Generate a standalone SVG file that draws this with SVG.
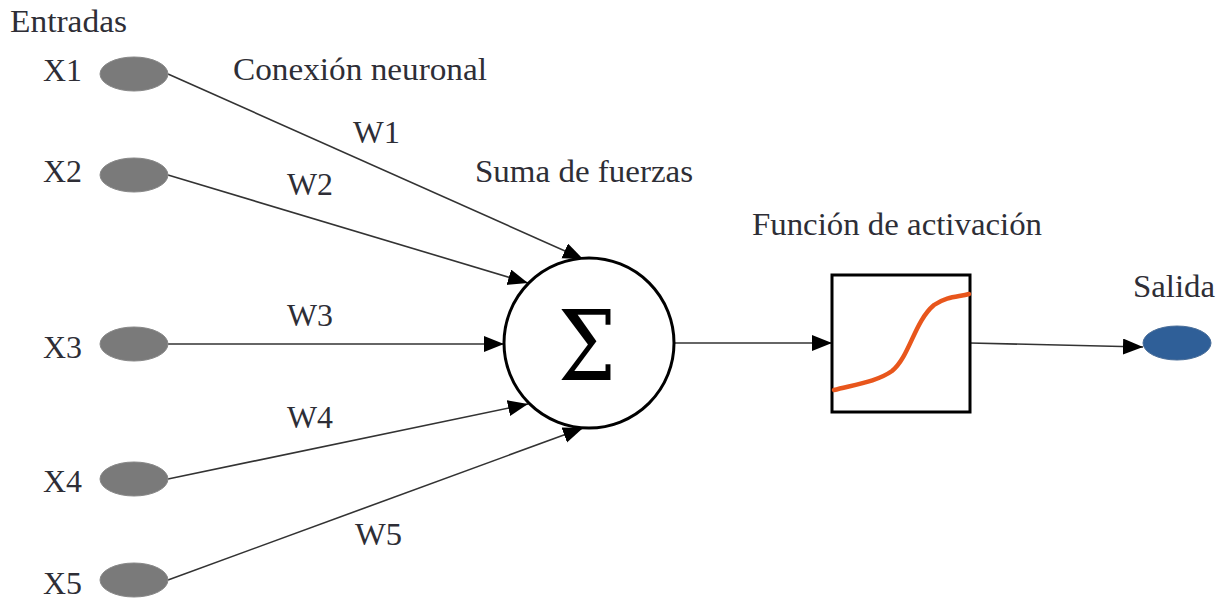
<svg xmlns="http://www.w3.org/2000/svg" width="1225" height="599" viewBox="0 0 1225 599">
<style>
text{font-family:"Liberation Serif","Times New Roman",serif;font-size:32px;fill:#2e2e36}
.in{fill:#7a7a7a;stroke:#888;stroke-width:1}
.con{stroke:#333;stroke-width:1.6;fill:none}
</style>
<defs>
<marker id="ah" markerUnits="userSpaceOnUse" markerWidth="22" markerHeight="18" refX="20" refY="8" orient="auto">
<path d="M0,0 L20,8 L0,16 Z" fill="#000"/>
</marker>
</defs>
<rect width="1225" height="599" fill="#fff"/>
<text x="10" y="32" textLength="117" lengthAdjust="spacingAndGlyphs">Entradas</text>
<text x="233" y="80" textLength="254" lengthAdjust="spacingAndGlyphs">Conexión neuronal</text>
<text x="475" y="182" textLength="218" lengthAdjust="spacingAndGlyphs">Suma de fuerzas</text>
<text x="752" y="235" textLength="290" lengthAdjust="spacingAndGlyphs">Función de activación</text>
<text x="1133" y="297" textLength="82" lengthAdjust="spacingAndGlyphs">Salida</text>
<g id="connectors">
<line class="con" x1="168" y1="74" x2="583" y2="259" marker-end="url(#ah)"/>
<line class="con" x1="168" y1="175" x2="528" y2="283" marker-end="url(#ah)"/>
<line class="con" x1="168" y1="344" x2="504" y2="344" marker-end="url(#ah)"/>
<line class="con" x1="168" y1="479" x2="528" y2="404" marker-end="url(#ah)"/>
<line class="con" x1="168" y1="580" x2="583" y2="428" marker-end="url(#ah)"/>
<line class="con" x1="674" y1="343" x2="832" y2="343" marker-end="url(#ah)"/>
<line class="con" x1="970" y1="343" x2="1143" y2="347" marker-end="url(#ah)"/>
<text x="353" y="143" textLength="47" lengthAdjust="spacingAndGlyphs">W1</text>
<text x="287" y="195" textLength="46" lengthAdjust="spacingAndGlyphs">W2</text>
<text x="287" y="326" textLength="46" lengthAdjust="spacingAndGlyphs">W3</text>
<text x="287" y="428" textLength="46" lengthAdjust="spacingAndGlyphs">W4</text>
<text x="355" y="545" textLength="47" lengthAdjust="spacingAndGlyphs">W5</text>
</g>
<g id="x1"><text x="43" y="81" textLength="39" lengthAdjust="spacingAndGlyphs">X1</text><ellipse class="in" cx="134" cy="74" rx="34" ry="17"/></g>
<g id="x2"><text x="43" y="182" textLength="39" lengthAdjust="spacingAndGlyphs">X2</text><ellipse class="in" cx="134" cy="175" rx="34" ry="17"/></g>
<g id="x3"><text x="43" y="358" textLength="39" lengthAdjust="spacingAndGlyphs">X3</text><ellipse class="in" cx="134" cy="344" rx="34" ry="17"/></g>
<g id="x4"><text x="43" y="492" textLength="39" lengthAdjust="spacingAndGlyphs">X4</text><ellipse class="in" cx="134" cy="479" rx="34" ry="17"/></g>
<g id="x5"><text x="43" y="594" textLength="39" lengthAdjust="spacingAndGlyphs">X5</text><ellipse class="in" cx="134" cy="580" rx="34" ry="17"/></g>
<g id="suma">
<circle cx="589" cy="343" r="85" fill="#fff" stroke="#000" stroke-width="3"/>
<text x="587" y="380" text-anchor="middle" textLength="58" lengthAdjust="spacingAndGlyphs" style="font-family:'DejaVu Serif',serif;font-size:98px;fill:#000">Σ</text>
</g>
<g id="activacion">
<rect x="832" y="275" width="138" height="137" fill="#fff" stroke="#000" stroke-width="3"/>
<path d="M834,390 C858,384 878,381 892,371 C910,356 914,322 934,305 C947,296 958,297 969,294" fill="none" stroke="#e8561c" stroke-width="4.5" stroke-linecap="round"/>
</g>
<g id="salida">
<ellipse cx="1177" cy="343" rx="34" ry="17" fill="#2f5f98" stroke="#4a6e99" stroke-width="1"/>
</g>
</svg>
